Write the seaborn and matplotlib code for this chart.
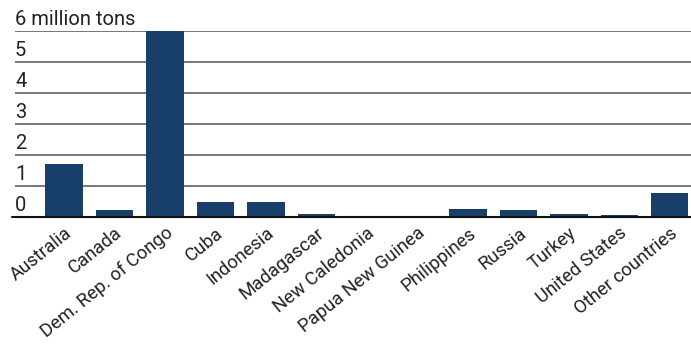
import matplotlib
matplotlib.use("Agg")
import matplotlib.pyplot as plt
import seaborn as sns
import pandas as pd

countries = ["Australia", "Canada", "Dem. Rep. of Congo", "Cuba", "Indonesia",
             "Madagascar", "New Caledonia", "Papua New Guinea", "Philippines",
             "Russia", "Turkey", "United States", "Other countries"]
values = [1.72, 0.23, 6.0, 0.48, 0.48, 0.10, 0.003, 0.03, 0.26, 0.22, 0.10, 0.06, 0.78]
ytick_vals = [0, 1, 2, 3, 4, 5, 6]
ytick_labels = ["0", "1", "2", "3", "4", "5", "6 million tons"]

sns.set_theme(style="white")
plt.rcParams['font.family'] = ['Roboto', 'DejaVu Sans']

df = pd.DataFrame({"country": countries, "value": values})

fig = plt.figure(figsize=(6.91, 3.48), dpi=100)
ax = fig.add_axes([15/691, 1 - 217/348, 1 - 15/691, (217 - 31)/348])

sns.barplot(data=df, x="country", y="value", color="#173f6a", width=0.74,
            saturation=1, linewidth=0, edgecolor="none", ax=ax, zorder=3)

ax.set_ylim(0, 6)
ax.set_xlim(-0.97, 12.42)
for s in ax.spines.values():
    s.set_visible(False)
ax.set_yticks(ytick_vals)
ax.set_yticklabels([])
ax.tick_params(axis="y", length=0)
ax.set_xlabel("")
ax.set_ylabel("")

for v, lab in zip(ytick_vals, ytick_labels):
    if v == 0:
        ax.axhline(0, color="#111111", lw=1.5, zorder=4, xmin=-0.004, clip_on=False)
    else:
        ax.axhline(v, color="#777777", lw=1.4, zorder=1)
    ax.text(0.0, v + 0.07, lab, transform=ax.get_yaxis_transform(),
            ha="left", va="bottom", fontsize=14.5, color="#222222", zorder=5)

ax.set_xticks(range(len(countries)))
ax.set_xticklabels(countries, rotation=39, ha="right", rotation_mode="anchor",
                   fontsize=13.3, color="#222222")
ax.tick_params(axis="x", length=0, pad=5)

fig.savefig("out.png", dpi=100)
